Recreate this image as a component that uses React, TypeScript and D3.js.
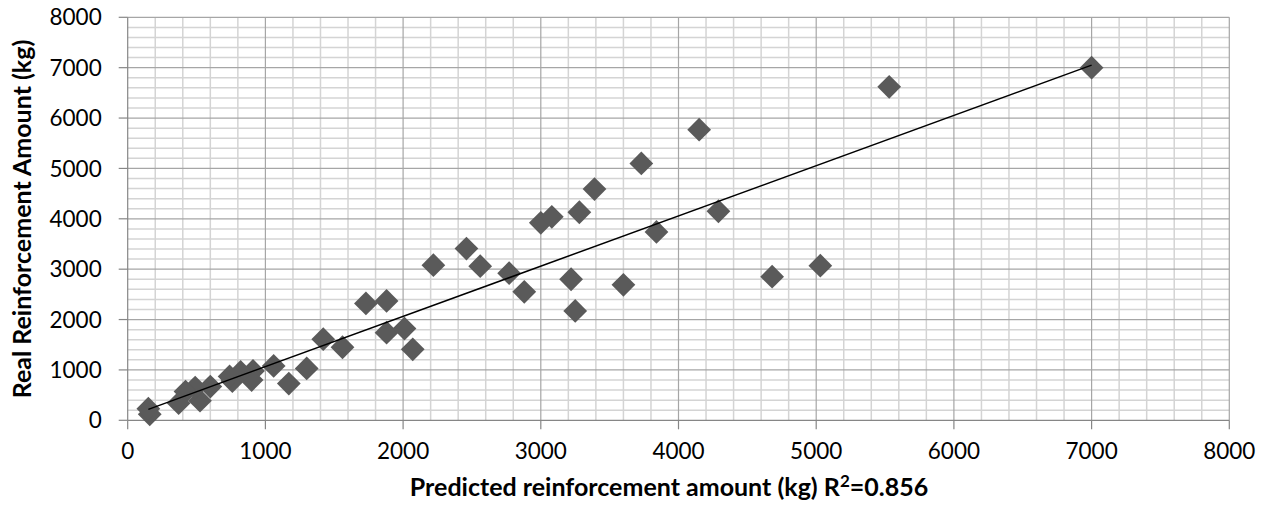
import React from "react";
import * as d3 from "d3";

const predicted = [7000, 5530, 4150, 3730, 3390, 4290, 3840, 3600, 4680, 5030, 3000, 3080, 3280, 2460, 2220, 2560, 2770, 2880, 3220, 3250, 1730, 1880, 1880, 2010, 2070, 1560, 1420, 1300, 1170, 1060, 910, 900, 820, 760, 740, 600, 525, 490, 420, 370, 160, 150];
const real = [7000, 6620, 5770, 5100, 4590, 4150, 3740, 2690, 2850, 3070, 3920, 4040, 4130, 3410, 3080, 3060, 2920, 2550, 2800, 2170, 2320, 2370, 1740, 1820, 1410, 1450, 1610, 1030, 730, 1080, 980, 800, 960, 780, 870, 670, 390, 650, 570, 340, 120, 230];
const majorTicks = [0, 1000, 2000, 3000, 4000, 5000, 6000, 7000, 8000];
const minorTicks = d3.range(0, 8001, 200);
const trendIntercept = 68;
const trendSlope = 0.9974;
const xTitle = "Predicted reinforcement amount (kg) R";
const yTitle = "Real Reinforcement Amount (kg)";

export default function App() {
  const W = 1269, H = 510;
  const x = d3.scaleLinear().domain([0, 8000]).range([127.7, 1229.3]);
  const y = d3.scaleLinear().domain([0, 8000]).range([420.3, 17.3]);
  const xMin = d3.min(predicted) as number;
  const xMax = d3.max(predicted) as number;
  const line = d3.line<number>().x((d) => x(d)).y((d) => y(trendIntercept + trendSlope * d));
  const diamond = d3.symbol().type(d3.symbolDiamond2).size(360)();
  const font = "Lato, 'Open Sans', sans-serif";
  return (
    <svg width={W} height={H} style={{ position: "absolute", left: 0, top: 0, background: "#fff" }}>
      <rect width={W} height={H} fill="#fff" />
      {minorTicks.filter((t) => t % 1000 !== 0).map((t) => (
        <g key={"m" + t}>
          <line x1={x(t)} x2={x(t)} y1={y(0)} y2={y(8000)} stroke="#d4d4d4" strokeWidth={1.5} />
          <line x1={x(0)} x2={x(8000)} y1={y(t)} y2={y(t)} stroke="#d4d4d4" strokeWidth={1.5} />
        </g>
      ))}
      {majorTicks.filter((t) => t !== 0).map((t) => (
        <g key={"M" + t}>
          <line x1={x(t)} x2={x(t)} y1={y(0)} y2={y(8000)} stroke="#a6a6a6" strokeWidth={1.2} />
          <line x1={x(0)} x2={x(8000)} y1={y(t)} y2={y(t)} stroke="#a6a6a6" strokeWidth={1.2} />
        </g>
      ))}
      <line x1={x(0)} x2={x(0)} y1={y(0)} y2={y(8000)} stroke="#868686" strokeWidth={1.2} />
      <line x1={x(0)} x2={x(8000)} y1={y(0)} y2={y(0)} stroke="#868686" strokeWidth={1.2} />
      {majorTicks.map((t) => (
        <g key={"t" + t}>
          <line x1={x(0) - 9} x2={x(0)} y1={y(t)} y2={y(t)} stroke="#868686" strokeWidth={1.2} />
          <line x1={x(t)} x2={x(t)} y1={y(0)} y2={y(0) + 9} stroke="#868686" strokeWidth={1.2} />
          <text x={x(0) - 26} y={y(t)} dy="0.36em" textAnchor="end" fontFamily={font} fontSize={22.5} fill="#000">{t}</text>
          <text x={x(t)} y={y(0) + 39} textAnchor="middle" fontFamily={font} fontSize={22.5} fill="#000">{t}</text>
        </g>
      ))}
      {predicted.map((p, i) => (
        <path key={i} d={diamond as string} transform={`translate(${x(p)},${y(real[i])})`} fill="#5a5a5a" />
      ))}
      <path d={line([xMin, xMax]) as string} stroke="#000" strokeWidth={1.5} fill="none" />
      <text x={669} y={496} textAnchor="middle" fontFamily={font} fontSize={25} fontWeight="bold" fill="#000">
        {xTitle}
        <tspan dy={-9} fontSize={17}>2</tspan>
        <tspan dy={9}>=0.856</tspan>
      </text>
      <text transform={`translate(31,${219}) rotate(-90)`} textAnchor="middle" fontFamily={font} fontSize={25} fontWeight="bold" fill="#000">
        {yTitle}
      </text>
    </svg>
  );
}
